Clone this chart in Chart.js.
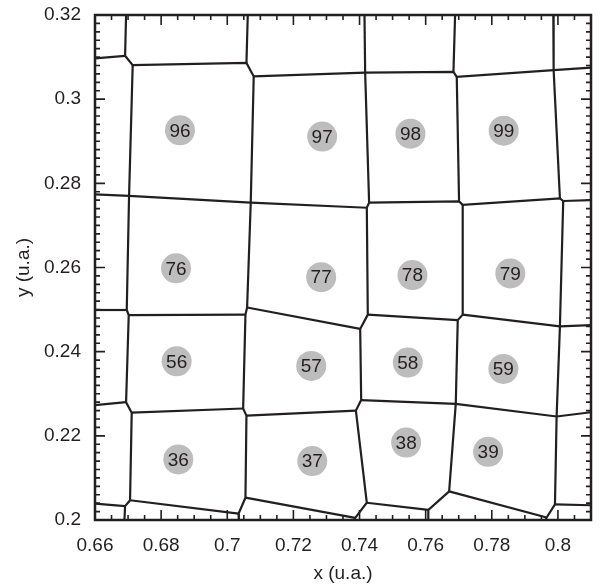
<!DOCTYPE html>
<html>
<head>
<meta charset="utf-8">
<script src="https://cdn.jsdelivr.net/npm/chart.js@4.4.0/dist/chart.umd.min.js"></script>
<style>
  html, body { margin: 0; padding: 0; background: #fff; }
  canvas { display: block; }
</style>
</head>
<body>
<canvas id="voronoiCanvas" width="606" height="588"></canvas>
<script>
// axis ticks
const xTicks = [0.66, 0.68, 0.7, 0.72, 0.74, 0.76, 0.78, 0.8];
const yTicks = [0.2, 0.22, 0.24, 0.26, 0.28, 0.3, 0.32];

// numbered particles (centre of each grey disc)
const particleIds = [96, 97, 98, 99, 76, 77, 78, 79, 56, 57, 58, 59, 36, 37, 38, 39];
const particleX = [0.6857, 0.7287, 0.7554, 0.7836,
                   0.6845, 0.7284, 0.7560, 0.7856,
                   0.6847, 0.7254, 0.7546, 0.7835,
                   0.6852, 0.7257, 0.7541, 0.7789];
const particleY = [0.2926, 0.2911, 0.2918, 0.2925,
                   0.2598, 0.2577, 0.2582, 0.2586,
                   0.2377, 0.2366, 0.2374, 0.2359,
                   0.2144, 0.2140, 0.2184, 0.2162];

// cell boundaries : polylines of [x, y]
const topRow = [[0.6694, 0.32], [0.6691, 0.3103], [0.6714, 0.3081], [0.7058, 0.3086], [0.7080, 0.3054],
                [0.7417, 0.3063], [0.7684, 0.3065], [0.7694, 0.3053], [0.7987, 0.3069], [0.81, 0.3075]];
const topStubs = [
  [[0.66, 0.3097], [0.6691, 0.3103]],
  [[0.7062, 0.32], [0.7058, 0.3086]],
  [[0.7415, 0.32], [0.7417, 0.3063]],
  [[0.7689, 0.32], [0.7684, 0.3065]],
  [[0.7986, 0.32], [0.7987, 0.3069]]
];
const secondRow = [[0.66, 0.2774], [0.6703, 0.2770], [0.7071, 0.2754], [0.7422, 0.2742], [0.7429, 0.2754],
                   [0.7701, 0.2757], [0.7712, 0.2749], [0.8006, 0.2764], [0.8016, 0.2758], [0.81, 0.2760]];
const columns = [
  [[0.6714, 0.3081], [0.6703, 0.2770], [0.6696, 0.2499], [0.6702, 0.2487], [0.6694, 0.2280],
   [0.6711, 0.2255], [0.6706, 0.2047], [0.6691, 0.2033], [0.6689, 0.2]],
  [[0.7080, 0.3054], [0.7071, 0.2754], [0.7060, 0.2505], [0.7055, 0.2488], [0.7048, 0.2265],
   [0.7058, 0.2248], [0.7055, 0.2053], [0.7034, 0.2015], [0.7035, 0.2]],
  [[0.7417, 0.3063], [0.7429, 0.2754]],
  [[0.7422, 0.2742], [0.7425, 0.2488], [0.7402, 0.2454], [0.7405, 0.2285], [0.7389, 0.2260],
   [0.7422, 0.2041], [0.7387, 0.2005], [0.7383, 0.2]],
  [[0.7694, 0.3053], [0.7701, 0.2757]],
  [[0.7712, 0.2749], [0.7712, 0.2488], [0.7697, 0.2475], [0.7691, 0.2276], [0.7671, 0.2068],
   [0.7608, 0.2024], [0.7608, 0.2]],
  [[0.7987, 0.3069], [0.8006, 0.2764]],
  [[0.8016, 0.2758], [0.8006, 0.2460], [0.7996, 0.2246], [0.7991, 0.2037], [0.7966, 0.2006], [0.7962, 0.2]]
];
const thirdRow = [
  [[0.66, 0.2499], [0.6696, 0.2499]],
  [[0.6702, 0.2487], [0.7055, 0.2488]],
  [[0.7060, 0.2505], [0.7402, 0.2454]],
  [[0.7425, 0.2488], [0.7697, 0.2475]],
  [[0.7712, 0.2488], [0.8006, 0.2460], [0.81, 0.2463]]
];
const fourthRow = [
  [[0.66, 0.2273], [0.6694, 0.2280]],
  [[0.6711, 0.2255], [0.7048, 0.2265]],
  [[0.7058, 0.2248], [0.7389, 0.2260]],
  [[0.7405, 0.2285], [0.7691, 0.2276], [0.7996, 0.2246], [0.81, 0.2256]]
];
const bottomRow = [
  [[0.66, 0.2039], [0.6691, 0.2033]],
  [[0.6706, 0.2047], [0.7034, 0.2015]],
  [[0.7055, 0.2053], [0.7387, 0.2005]],
  [[0.7422, 0.2041], [0.7608, 0.2024]],
  [[0.7671, 0.2068], [0.7966, 0.2006]],
  [[0.7991, 0.2037], [0.81, 0.2035]]
];

const ink = '#231f20';
const labelFont = { family: "'Liberation Sans', Arial, sans-serif", size: 19 };
const fmt = v => String(+Number(v).toFixed(3));

const polylines = [topRow, ...topStubs, secondRow, ...columns, ...thirdRow, ...fourthRow, ...bottomRow];
const edgeDatasets = polylines.map(line => ({
  data: line.map(p => ({ x: p[0], y: p[1] })),
  showLine: true,
  borderColor: ink,
  borderWidth: 2.2,
  pointRadius: 0,
  pointHoverRadius: 0,
  tension: 0,
  order: 2
}));

const particleDataset = {
  data: particleIds.map((id, i) => ({ x: particleX[i], y: particleY[i] })),
  backgroundColor: '#bdbdbd',
  borderWidth: 0,
  pointRadius: 15,
  pointHoverRadius: 15,
  order: 1
};

// ticks pointing inwards on the four sides, frame and the particle numbers
const frameAndTicks = {
  id: 'frameAndTicks',
  afterDatasetsDraw(chart) {
    const { ctx, chartArea: a, scales: { x, y } } = chart;
    ctx.save();
    ctx.strokeStyle = ink;
    ctx.lineWidth = 1.6;
    ctx.beginPath();
    for (let i = 0; i <= 30; i++) {
      const px = x.getPixelForValue(0.66 + i * 0.005);
      const len = i % 4 === 0 ? 10 : 5;
      ctx.moveTo(px, a.bottom); ctx.lineTo(px, a.bottom - len);
      ctx.moveTo(px, a.top); ctx.lineTo(px, a.top + len);
    }
    for (let j = 0; j <= 60; j++) {
      const py = y.getPixelForValue(0.2 + j * 0.002);
      const len = j % 10 === 0 ? 10 : 5;
      ctx.moveTo(a.left, py); ctx.lineTo(a.left + len, py);
      ctx.moveTo(a.right, py); ctx.lineTo(a.right - len, py);
    }
    ctx.stroke();
    ctx.lineWidth = 2.5;
    ctx.strokeRect(a.left, a.top, a.right - a.left, a.bottom - a.top);

    // numbers in the discs
    const meta = chart.getDatasetMeta(chart.data.datasets.indexOf(particleDataset));
    ctx.fillStyle = ink;
    ctx.font = "19px 'Liberation Sans', Arial, sans-serif";
    ctx.textAlign = 'center';
    ctx.textBaseline = 'middle';
    meta.data.forEach((pt, i) => {
      ctx.fillText(String(particleIds[i]), pt.x, pt.y + 1);
    });
    ctx.restore();
  }
};

new Chart(document.getElementById('voronoiCanvas'), {
  type: 'scatter',
  data: { datasets: [particleDataset, ...edgeDatasets] },
  options: {
    responsive: false,
    animation: false,
    devicePixelRatio: 1,
    layout: { padding: { top: 14, right: 6, left: 0, bottom: 0 } },
    plugins: { legend: { display: false }, tooltip: { enabled: false } },
    scales: {
      x: {
        type: 'linear',
        min: 0.66,
        max: 0.81,
        grid: { display: false, drawTicks: false, tickLength: 0 },
        border: { display: false },
        afterBuildTicks: s => { s.ticks = xTicks.map(v => ({ value: v })); },
        afterFit: s => { s.height = 68; s.paddingLeft = 0; s.paddingRight = 0; },
        ticks: { padding: 14, color: ink, font: labelFont, maxRotation: 0, autoSkip: false, callback: v => fmt(v) },
        title: { display: true, text: 'x (u.a.)', color: ink, font: labelFont, padding: { top: 0, bottom: 3 } }
      },
      y: {
        type: 'linear',
        min: 0.2,
        max: 0.32,
        grid: { display: false, drawTicks: false, tickLength: 0 },
        border: { display: false },
        afterBuildTicks: s => { s.ticks = yTicks.map(v => ({ value: v })); },
        afterFit: s => { s.width = 95; s.paddingTop = 0; s.paddingBottom = 0; },
        ticks: { padding: 14, color: ink, font: labelFont, autoSkip: false, callback: v => fmt(v) },
        title: { display: true, text: 'y (u.a.)', color: ink, font: labelFont, padding: { top: 12, bottom: 0 } }
      }
    }
  },
  plugins: [frameAndTicks]
});
</script>
</body>
</html>
